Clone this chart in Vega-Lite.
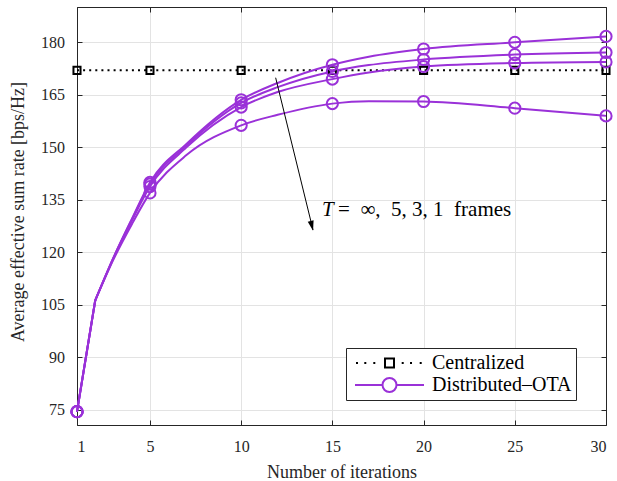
{
  "$schema": "https://vega.github.io/schema/vega-lite/v6.json",
  "width": 529,
  "height": 418,
  "autosize": {"type": "none"},
  "padding": {"left": 77, "top": 7, "right": 11, "bottom": 56},
  "background": "white",
  "config": {
    "view": {"stroke": "#262626", "strokeWidth": 1},
    "font": "Liberation Serif"
  },
  "datasets": {
    "rates": [
      {"s": "Centralized", "T": "c", "i": 1, "v": 172},
      {"s": "Centralized", "T": "c", "i": 5, "v": 172},
      {"s": "Centralized", "T": "c", "i": 10, "v": 172},
      {"s": "Centralized", "T": "c", "i": 15, "v": 172},
      {"s": "Centralized", "T": "c", "i": 20, "v": 172},
      {"s": "Centralized", "T": "c", "i": 25, "v": 172},
      {"s": "Centralized", "T": "c", "i": 30, "v": 172},
      {"s": "Distributed–OTA", "T": "∞", "i": 1, "v": 74.5},
      {"s": "Distributed–OTA", "T": "∞", "i": 2, "v": 106.3},
      {"s": "Distributed–OTA", "T": "∞", "i": 3, "v": 118.5},
      {"s": "Distributed–OTA", "T": "∞", "i": 4, "v": 129.5},
      {"s": "Distributed–OTA", "T": "∞", "i": 5, "v": 140},
      {"s": "Distributed–OTA", "T": "∞", "i": 7, "v": 151},
      {"s": "Distributed–OTA", "T": "∞", "i": 10, "v": 163.6},
      {"s": "Distributed–OTA", "T": "∞", "i": 12, "v": 168.4},
      {"s": "Distributed–OTA", "T": "∞", "i": 15, "v": 173.6},
      {"s": "Distributed–OTA", "T": "∞", "i": 17, "v": 175.9},
      {"s": "Distributed–OTA", "T": "∞", "i": 20, "v": 178.1},
      {"s": "Distributed–OTA", "T": "∞", "i": 25, "v": 180.0},
      {"s": "Distributed–OTA", "T": "∞", "i": 30, "v": 181.7},
      {"s": "Distributed–OTA", "T": "5", "i": 1, "v": 74.5},
      {"s": "Distributed–OTA", "T": "5", "i": 2, "v": 106.3},
      {"s": "Distributed–OTA", "T": "5", "i": 3, "v": 118.5},
      {"s": "Distributed–OTA", "T": "5", "i": 4, "v": 129.3},
      {"s": "Distributed–OTA", "T": "5", "i": 5, "v": 139.5},
      {"s": "Distributed–OTA", "T": "5", "i": 7, "v": 150.5},
      {"s": "Distributed–OTA", "T": "5", "i": 10, "v": 162.7},
      {"s": "Distributed–OTA", "T": "5", "i": 12, "v": 167.2},
      {"s": "Distributed–OTA", "T": "5", "i": 15, "v": 171.7},
      {"s": "Distributed–OTA", "T": "5", "i": 17, "v": 173.5},
      {"s": "Distributed–OTA", "T": "5", "i": 20, "v": 175.1},
      {"s": "Distributed–OTA", "T": "5", "i": 25, "v": 176.5},
      {"s": "Distributed–OTA", "T": "5", "i": 30, "v": 177.1},
      {"s": "Distributed–OTA", "T": "3", "i": 1, "v": 74.5},
      {"s": "Distributed–OTA", "T": "3", "i": 2, "v": 106.3},
      {"s": "Distributed–OTA", "T": "3", "i": 3, "v": 118.3},
      {"s": "Distributed–OTA", "T": "3", "i": 4, "v": 129},
      {"s": "Distributed–OTA", "T": "3", "i": 5, "v": 138.8},
      {"s": "Distributed–OTA", "T": "3", "i": 7, "v": 150},
      {"s": "Distributed–OTA", "T": "3", "i": 10, "v": 161.5},
      {"s": "Distributed–OTA", "T": "3", "i": 12, "v": 165.8},
      {"s": "Distributed–OTA", "T": "3", "i": 15, "v": 169.5},
      {"s": "Distributed–OTA", "T": "3", "i": 17, "v": 171.4},
      {"s": "Distributed–OTA", "T": "3", "i": 20, "v": 173.1},
      {"s": "Distributed–OTA", "T": "3", "i": 25, "v": 174.1},
      {"s": "Distributed–OTA", "T": "3", "i": 30, "v": 174.4},
      {"s": "Distributed–OTA", "T": "1", "i": 1, "v": 74.5},
      {"s": "Distributed–OTA", "T": "1", "i": 2, "v": 106.3},
      {"s": "Distributed–OTA", "T": "1", "i": 3, "v": 118},
      {"s": "Distributed–OTA", "T": "1", "i": 4, "v": 128},
      {"s": "Distributed–OTA", "T": "1", "i": 5, "v": 137},
      {"s": "Distributed–OTA", "T": "1", "i": 7, "v": 147.8},
      {"s": "Distributed–OTA", "T": "1", "i": 10, "v": 156.3},
      {"s": "Distributed–OTA", "T": "1", "i": 12, "v": 159.3},
      {"s": "Distributed–OTA", "T": "1", "i": 15, "v": 162.5},
      {"s": "Distributed–OTA", "T": "1", "i": 17, "v": 163.2},
      {"s": "Distributed–OTA", "T": "1", "i": 20, "v": 163.1},
      {"s": "Distributed–OTA", "T": "1", "i": 25, "v": 161.2},
      {"s": "Distributed–OTA", "T": "1", "i": 30, "v": 159.0}
    ]
  },
  "layer": [
    {
      "data": {"name": "rates"},
      "transform": [{"filter": "datum.s === 'Centralized'"}],
      "mark": {"type": "line", "color": "#000000", "strokeWidth": 2, "strokeDash": [2, 4.1]},
      "encoding": {
        "x": {
          "field": "i", "type": "quantitative",
          "scale": {"domain": [1, 30], "nice": false, "zero": false},
          "axis": {
            "orient": "bottom", "values": [1, 5, 10, 15, 20, 25, 30],
            "grid": true, "gridColor": "#e3e3e3", "gridWidth": 1,
            "domainColor": "#262626", "tickColor": "#262626", "tickSize": -5,
            "labelPadding": 18, "labelFont": "Liberation Serif", "labelFontSize": 16, "labelColor": "#262626",
            "title": "Number of iterations", "titleFont": "Liberation Serif", "titleFontSize": 18,
            "titleFontWeight": "normal", "titleColor": "#262626",
            "titleX": 264.5, "titleY": 52, "titleBaseline": "alphabetic", "titleAlign": "center"
          }
        },
        "y": {
          "field": "v", "type": "quantitative",
          "scale": {"domain": [70.7, 190.1], "nice": false, "zero": false},
          "axis": {
            "orient": "left", "values": [75, 90, 105, 120, 135, 150, 165, 180],
            "grid": true, "gridColor": "#e3e3e3", "gridWidth": 1,
            "domainColor": "#262626", "tickColor": "#262626", "tickSize": -5,
            "labelPadding": 17.5, "labelFont": "Liberation Serif", "labelFontSize": 16, "labelColor": "#262626",
            "title": "Average effective sum rate [bps/Hz]", "titleFont": "Liberation Serif", "titleFontSize": 18,
            "titleFontWeight": "normal", "titleColor": "#262626",
            "titleX": -54, "titleY": 204.5, "titleAngle": -90, "titleBaseline": "alphabetic", "titleAlign": "center"
          }
        }
      }
    },
    {
      "data": {"name": "rates"},
      "transform": [{"filter": "datum.s !== 'Centralized' && datum.i >= 2"}],
      "mark": {"type": "line", "color": "#9A31D8", "strokeWidth": 2, "interpolate": "monotone"},
      "encoding": {
        "x": {
          "field": "i", "type": "quantitative",
          "axis": {"orient": "top", "values": [1, 5, 10, 15, 20, 25, 30], "labels": false, "grid": false,
                   "domainColor": "#262626", "tickColor": "#262626", "tickSize": -5, "title": null}
        },
        "y": {
          "field": "v", "type": "quantitative",
          "axis": {"orient": "right", "values": [75, 90, 105, 120, 135, 150, 165, 180], "labels": false, "grid": false,
                   "domainColor": "#262626", "tickColor": "#262626", "tickSize": -5, "title": null}
        },
        "detail": {"field": "T"}
      }
    },
    {
      "data": {"name": "rates"},
      "transform": [{"filter": "datum.s !== 'Centralized' && datum.i <= 2"}],
      "mark": {"type": "line", "color": "#9A31D8", "strokeWidth": 2, "interpolate": "linear"},
      "encoding": {
        "x": {"field": "i", "type": "quantitative", "axis": null},
        "y": {"field": "v", "type": "quantitative", "axis": null},
        "detail": {"field": "T"}
      }
    },
    {
      "data": {"name": "rates"},
      "transform": [{"filter": {"and": [{"field": "i", "oneOf": [1, 5, 10, 15, 20, 25, 30]}, "datum.s === 'Centralized'"]}}],
      "mark": {"type": "point", "shape": "square", "size": 50, "filled": false, "strokeWidth": 2, "color": "#000000", "opacity": 1},
      "encoding": {
        "x": {"field": "i", "type": "quantitative", "axis": null},
        "y": {"field": "v", "type": "quantitative", "axis": null}
      }
    },
    {
      "data": {"name": "rates"},
      "transform": [{"filter": {"and": [{"field": "i", "oneOf": [1, 5, 10, 15, 20, 25, 30]}, "datum.s !== 'Centralized'"]}}],
      "mark": {"type": "point", "shape": "circle", "size": 125, "filled": false, "strokeWidth": 2, "color": "#9A31D8", "opacity": 1},
      "encoding": {
        "x": {"field": "i", "type": "quantitative", "axis": null},
        "y": {"field": "v", "type": "quantitative", "axis": null}
      }
    },
    {
      "data": {"name": "rates"},
      "transform": [{"filter": "datum.i === 1 && (datum.T === 'c' || datum.T === '∞')"}],
      "mark": {"type": "point", "filled": false, "strokeWidth": 2, "opacity": 0},
      "encoding": {
        "x": {"field": "i", "type": "quantitative", "axis": null},
        "y": {"field": "v", "type": "quantitative", "axis": null},
        "color": {
          "field": "s", "type": "nominal",
          "scale": {"domain": ["Centralized", "Distributed–OTA"], "range": ["#000000", "#9A31D8"]},
          "legend": {
            "title": null, "orient": "none", "legendX": 269, "legendY": 341, "direction": "vertical",
            "padding": 4, "fillColor": "white", "strokeColor": "#262626",
            "labelFont": "Liberation Serif", "labelFontSize": 20, "labelColor": "#000000", "labelOffset": 31.5,
            "rowPadding": 1, "symbolStrokeWidth": 2, "symbolFillColor": "transparent", "symbolOpacity": 1,
            "symbolOffset": 28.5
          }
        },
        "shape": {
          "field": "s", "type": "nominal",
          "scale": {"domain": ["Centralized", "Distributed–OTA"], "range": ["M-3.35,0H-3.15M-2.52,0H-2.32M-1.62,0H-1.42M1.22,0H1.42M2.05,0H2.25M3.02,0H3.22M-0.45,-0.45H0.45V0.45H-0.45Z", "M-3.45,0H-0.7M0.7,0H3.45M-0.7,0A0.7,0.7 0 1,0 0.7,0A0.7,0.7 0 1,0 -0.7,0"]}
        },
        "size": {
          "field": "s", "type": "nominal",
          "scale": {"domain": ["Centralized", "Distributed–OTA"], "range": [400, 400]}
        }
      }
    },
    {
      "data": {"values": [{}]},
      "mark": {"type": "rule", "color": "#000000", "strokeWidth": 1},
      "encoding": {
        "x": {"datum": 11.89, "type": "quantitative", "axis": null},
        "y": {"datum": 169.9, "type": "quantitative", "axis": null},
        "x2": {"datum": 13.94},
        "y2": {"datum": 126.4}
      }
    },
    {
      "data": {"values": [{}]},
      "mark": {"type": "point", "shape": "M0,0L-0.6,-2L0.6,-2Z", "filled": true, "color": "#000000", "size": 100, "angle": 346.3, "opacity": 1},
      "encoding": {
        "x": {"datum": 13.94, "type": "quantitative", "axis": null},
        "y": {"datum": 126.2, "type": "quantitative", "axis": null}
      }
    },
    {
      "data": {"values": [{}]},
      "mark": {"type": "text", "text": "T", "font": "Liberation Serif", "fontStyle": "italic", "fontSize": 21, "align": "left", "baseline": "alphabetic", "color": "#000000"},
      "encoding": {
        "x": {"datum": 14.43, "type": "quantitative", "axis": null},
        "y": {"datum": 130.5, "type": "quantitative", "axis": null}
      }
    },
    {
      "data": {"values": [{}]},
      "mark": {"type": "text", "text": "=\u00a0\u00a0∞,\u00a0\u00a05,\u00a03,\u00a01\u00a0\u00a0frames", "font": "Liberation Serif", "fontSize": 21, "align": "left", "baseline": "alphabetic", "color": "#000000"},
      "encoding": {
        "x": {"datum": 15.31, "type": "quantitative", "axis": null},
        "y": {"datum": 130.5, "type": "quantitative", "axis": null}
      }
    }
  ],
  "resolve": {"axis": {"x": "independent", "y": "independent"}}
}
